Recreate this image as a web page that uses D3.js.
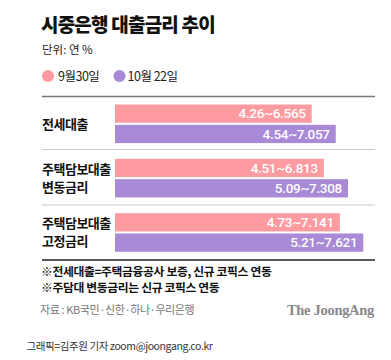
<!DOCTYPE html>
<html><head><meta charset="utf-8">
<script src="https://cdn.jsdelivr.net/npm/d3@7"></script>
<style>
html,body{margin:0;padding:0;background:#fff;}
svg{display:block;font-family:"Noto Sans CJK KR","Noto Sans",sans-serif;}
</style></head>
<body>
<script>
const categories = [["전세대출"], ["주택담보대출", "변동금리"], ["주택담보대출", "고정금리"]];
const seriesNames = ["9월30일", "10월 22일"];
const lowSep = ["4.26", "4.51", "4.73"];
const highSep = ["6.565", "6.813", "7.141"];
const lowOct = ["4.54", "5.09", "5.21"];
const highOct = ["7.057", "7.308", "7.621"];
const colors = ["#fd9ba1", "#a88ad7"];

const W = 391, H = 360;
const svg = d3.select("body").append("svg").attr("width", W).attr("height", H);

svg.append("text").attr("x", 41).attr("y", 32).text("시중은행 대출금리 추이")
  .attr("font-size", 19).attr("font-weight", 900).attr("fill", "#111").attr("letter-spacing", -0.8);
svg.append("text").attr("x", 42).attr("y", 54).text("단위: 연 %")
  .attr("font-size", 11.5).attr("fill", "#222");

// legend
const leg = [{x: 48, tx: 58}, {x: 119.5, tx: 127.5}];
seriesNames.forEach((n, i) => {
  svg.append("circle").attr("cx", leg[i].x).attr("cy", 76).attr("r", 6).attr("fill", colors[i]);
  svg.append("text").attr("x", leg[i].tx).attr("y", 80.5).text(n)
    .attr("font-size", 12.5).attr("fill", "#222").attr("letter-spacing", -0.5);
});

const keys = categories.map((c, i) => "g" + i);
const yG = d3.scaleBand().domain(keys).range([97, 260]);
const yS = d3.scaleBand().domain(["sep", "oct"]).range([7.5, 46.1]).paddingInner(0.1);
const x = d3.scaleLinear().domain([2.54, 7.621]).range([115, 363.3]);

const rows = [];
keys.forEach((k, i) => {
  rows.push({k, s: "sep", lo: lowSep[i], hi: highSep[i], c: colors[0]});
  rows.push({k, s: "oct", lo: lowOct[i], hi: highOct[i], c: colors[1]});
});

// lines
svg.append("line").attr("x1", 42).attr("x2", 375).attr("y1", 96.5).attr("y2", 96.5)
  .attr("stroke", "#777").attr("stroke-width", 1.3);
[149.5, 205].forEach(y => svg.append("line").attr("x1", 42).attr("x2", 375).attr("y1", y).attr("y2", y)
  .attr("stroke", "#c8c8c8").attr("stroke-width", 1));
svg.append("line").attr("x1", 42).attr("x2", 375).attr("y1", 260).attr("y2", 260)
  .attr("stroke", "#222").attr("stroke-width", 1.3);

svg.selectAll("rect.bar").data(rows).join("rect").attr("class", "bar")
  .attr("x", x(2.54)).attr("y", d => yG(d.k) + yS(d.s))
  .attr("width", d => x(+d.hi) - x(2.54)).attr("height", yS.bandwidth())
  .attr("fill", d => d.c);

svg.selectAll("text.val").data(rows).join("text").attr("class", "val")
  .attr("x", d => x(+d.hi) - 6).attr("y", d => yG(d.k) + yS(d.s) + yS.bandwidth() / 2 + 4.8)
  .attr("text-anchor", "end").attr("font-size", 13.5).attr("font-weight", 500)
  .attr("fill", "#fff").attr("letter-spacing", -0.3)
  .attr("font-family", "Roboto, 'Noto Sans', sans-serif")
  .text(d => d.lo + "~" + d.hi);

categories.forEach((lines, i) => {
  const cy = yG(keys[i]) + yG.bandwidth() / 2;
  lines.forEach((t, j) => {
    svg.append("text").attr("x", 42).attr("y", cy + (j - (lines.length - 1) / 2) * 18 + 4.5)
      .text(t).attr("font-size", 13).attr("font-weight", 700).attr("fill", "#111").attr("letter-spacing", -0.5);
  });
});

svg.append("text").attr("x", 41).attr("y", 275.5).text("※전세대출=주택금융공사 보증, 신규 코픽스 연동")
  .attr("font-size", 11.8).attr("font-weight", 700).attr("fill", "#111").attr("letter-spacing", -0.35);
svg.append("text").attr("x", 41).attr("y", 291.5).text("※주담대 변동금리는 신규 코픽스 연동")
  .attr("font-size", 11.8).attr("font-weight", 700).attr("fill", "#111").attr("letter-spacing", -0.35);
svg.append("text").attr("x", 40).attr("y", 314).text("자료 : KB국민·신한·하나·우리은행")
  .attr("font-size", 11).attr("fill", "#777").attr("letter-spacing", -0.4);
svg.append("text").attr("x", 374).attr("y", 315).attr("text-anchor", "end").text("The JoongAng")
  .attr("font-size", 14.5).attr("font-weight", 700).attr("fill", "#888")
  .attr("font-family", "'Liberation Serif','DejaVu Serif',serif").attr("letter-spacing", -0.3);
svg.append("text").attr("x", 26.5).attr("y", 349.5).text("그래픽=김주원 기자 zoom@joongang.co.kr")
  .attr("font-size", 10.5).attr("fill", "#333").attr("letter-spacing", -0.4);
</script>
</body></html>
